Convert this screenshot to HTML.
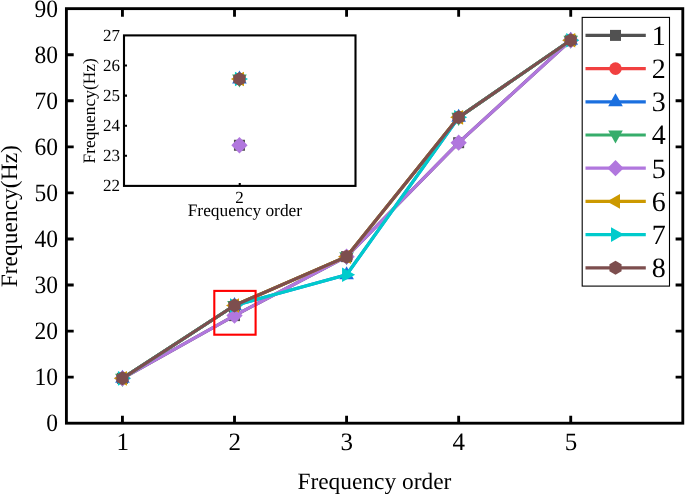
<!DOCTYPE html>
<html><head><meta charset="utf-8"><title>Frequency chart</title>
<style>html,body{margin:0;padding:0;background:#fff}svg{display:block}text{font-family:"Liberation Serif","Times New Roman",serif;text-rendering:geometricPrecision}</style></head>
<body>
<svg width="685" height="494" viewBox="0 0 685 494" fill="#000">
<rect width="685" height="494" fill="#fff"/>
<polyline points="122.44,378.34 234.51,315.62 346.58,256.64 458.65,142.69 570.73,40.25" fill="none" stroke="#515151" stroke-width="3.2" stroke-linejoin="round"/>
<rect x="116.94" y="372.84" width="11" height="11" fill="#515151"/>
<rect x="229.01" y="310.12" width="11" height="11" fill="#515151"/>
<rect x="341.08" y="251.14" width="11" height="11" fill="#515151"/>
<rect x="453.15" y="137.19" width="11" height="11" fill="#515151"/>
<rect x="565.23" y="34.75" width="11" height="11" fill="#515151"/>
<polyline points="122.44,378.34 234.51,305.47 346.58,256.64 458.65,117.35 570.73,40.25" fill="none" stroke="#F14040" stroke-width="3.2" stroke-linejoin="round"/>
<circle cx="122.44" cy="378.34" r="6.3" fill="#F14040"/>
<circle cx="234.51" cy="305.47" r="6.3" fill="#F14040"/>
<circle cx="346.58" cy="256.64" r="6.3" fill="#F14040"/>
<circle cx="458.65" cy="117.35" r="6.3" fill="#F14040"/>
<circle cx="570.73" cy="40.25" r="6.3" fill="#F14040"/>
<polyline points="122.44,378.34 234.51,305.47 346.58,274.79 458.65,117.35 570.73,40.25" fill="none" stroke="#1A6FDF" stroke-width="3.2" stroke-linejoin="round"/>
<polygon points="122.44,369.79 129.74,382.84 115.14,382.84" fill="#1A6FDF"/>
<polygon points="234.51,296.92 241.81,309.97 227.21,309.97" fill="#1A6FDF"/>
<polygon points="346.58,266.24 353.88,279.29 339.28,279.29" fill="#1A6FDF"/>
<polygon points="458.65,108.80 465.95,121.85 451.35,121.85" fill="#1A6FDF"/>
<polygon points="570.73,31.70 578.03,44.75 563.43,44.75" fill="#1A6FDF"/>
<polyline points="122.44,378.34 234.51,305.47 346.58,256.64 458.65,117.35 570.73,40.25" fill="none" stroke="#37AD6B" stroke-width="3.2" stroke-linejoin="round"/>
<polygon points="122.44,386.89 129.74,373.84 115.14,373.84" fill="#37AD6B"/>
<polygon points="234.51,314.02 241.81,300.97 227.21,300.97" fill="#37AD6B"/>
<polygon points="346.58,265.19 353.88,252.14 339.28,252.14" fill="#37AD6B"/>
<polygon points="458.65,125.90 465.95,112.85 451.35,112.85" fill="#37AD6B"/>
<polygon points="570.73,48.80 578.03,35.75 563.43,35.75" fill="#37AD6B"/>
<polyline points="122.44,378.34 234.51,315.62 346.58,256.64 458.65,142.69 570.73,40.25" fill="none" stroke="#B177DE" stroke-width="3.2" stroke-linejoin="round"/>
<polygon points="122.44,370.19 130.59,378.34 122.44,386.49 114.29,378.34" fill="#B177DE"/>
<polygon points="234.51,307.47 242.66,315.62 234.51,323.77 226.36,315.62" fill="#B177DE"/>
<polygon points="346.58,248.49 354.73,256.64 346.58,264.79 338.43,256.64" fill="#B177DE"/>
<polygon points="458.65,134.54 466.80,142.69 458.65,150.84 450.50,142.69" fill="#B177DE"/>
<polygon points="570.73,32.10 578.88,40.25 570.73,48.40 562.58,40.25" fill="#B177DE"/>
<polyline points="122.44,378.34 234.51,305.47 346.58,256.64 458.65,117.35 570.73,40.25" fill="none" stroke="#CC9900" stroke-width="3.2" stroke-linejoin="round"/>
<polygon points="113.89,378.34 126.94,371.04 126.94,385.64" fill="#CC9900"/>
<polygon points="225.96,305.47 239.01,298.17 239.01,312.77" fill="#CC9900"/>
<polygon points="338.03,256.64 351.08,249.34 351.08,263.94" fill="#CC9900"/>
<polygon points="450.10,117.35 463.15,110.05 463.15,124.65" fill="#CC9900"/>
<polygon points="562.18,40.25 575.23,32.95 575.23,47.55" fill="#CC9900"/>
<polyline points="122.44,378.34 234.51,305.47 346.58,274.79 458.65,117.35 570.73,40.25" fill="none" stroke="#00CBCC" stroke-width="3.2" stroke-linejoin="round"/>
<polygon points="130.99,378.34 117.94,371.04 117.94,385.64" fill="#00CBCC"/>
<polygon points="243.06,305.47 230.01,298.17 230.01,312.77" fill="#00CBCC"/>
<polygon points="355.13,274.79 342.08,267.49 342.08,282.09" fill="#00CBCC"/>
<polygon points="467.20,117.35 454.15,110.05 454.15,124.65" fill="#00CBCC"/>
<polygon points="579.28,40.25 566.23,32.95 566.23,47.55" fill="#00CBCC"/>
<polyline points="122.44,378.34 234.51,305.47 346.58,256.64 458.65,117.35 570.73,40.25" fill="none" stroke="#7D4E4E" stroke-width="3.2" stroke-linejoin="round"/>
<polygon points="122.44,371.34 128.50,374.84 128.50,381.84 122.44,385.34 116.37,381.84 116.37,374.84" fill="#7D4E4E"/>
<polygon points="234.51,298.47 240.57,301.97 240.57,308.97 234.51,312.47 228.45,308.97 228.45,301.97" fill="#7D4E4E"/>
<polygon points="346.58,249.64 352.64,253.14 352.64,260.14 346.58,263.64 340.52,260.14 340.52,253.14" fill="#7D4E4E"/>
<polygon points="458.65,110.35 464.72,113.85 464.72,120.85 458.65,124.35 452.59,120.85 452.59,113.85" fill="#7D4E4E"/>
<polygon points="570.73,33.25 576.79,36.75 576.79,43.75 570.73,47.25 564.67,43.75 564.67,36.75" fill="#7D4E4E"/>
<rect x="214.3" y="290.9" width="41.3" height="43.8" fill="none" stroke="#FF0000" stroke-width="2.1"/>
<rect x="66.40" y="8.65" width="616.40" height="414.55" fill="none" stroke="#000" stroke-width="2.85"/>
<path d="M122.44 423.20V415.80M122.44 8.65V16.65M234.51 423.20V415.80M234.51 8.65V16.65M346.58 423.20V415.80M346.58 8.65V16.65M458.65 423.20V415.80M458.65 8.65V16.65M570.73 423.20V415.80M570.73 8.65V16.65M66.40 377.14H73.70M682.80 377.14H675.60M66.40 331.08H73.70M682.80 331.08H675.60M66.40 285.02H73.70M682.80 285.02H675.60M66.40 238.96H73.70M682.80 238.96H675.60M66.40 192.89H73.70M682.80 192.89H675.60M66.40 146.83H73.70M682.80 146.83H675.60M66.40 100.77H73.70M682.80 100.77H675.60M66.40 54.71H73.70M682.80 54.71H675.60" stroke="#000" stroke-width="2.85" fill="none"/>
<g font-size="25">
<text transform="translate(57.9 431.10) scale(0.94 1)" text-anchor="end">0</text>
<text transform="translate(57.9 385.04) scale(0.94 1)" text-anchor="end">10</text>
<text transform="translate(57.9 338.98) scale(0.94 1)" text-anchor="end">20</text>
<text transform="translate(57.9 292.92) scale(0.94 1)" text-anchor="end">30</text>
<text transform="translate(57.9 246.86) scale(0.94 1)" text-anchor="end">40</text>
<text transform="translate(57.9 200.79) scale(0.94 1)" text-anchor="end">50</text>
<text transform="translate(57.9 154.73) scale(0.94 1)" text-anchor="end">60</text>
<text transform="translate(57.9 108.67) scale(0.94 1)" text-anchor="end">70</text>
<text transform="translate(57.9 62.61) scale(0.94 1)" text-anchor="end">80</text>
<text transform="translate(57.9 16.55) scale(0.94 1)" text-anchor="end">90</text>
<text x="122.64" y="450.2" text-anchor="middle">1</text>
<text x="234.71" y="450.2" text-anchor="middle">2</text>
<text x="346.78" y="450.2" text-anchor="middle">3</text>
<text x="458.85" y="450.2" text-anchor="middle">4</text>
<text x="570.93" y="450.2" text-anchor="middle">5</text>
</g>
<text x="374.4" y="488.6" font-size="23.4" text-anchor="middle">Frequency order</text>
<text transform="translate(16.8 216.2) rotate(-90)" font-size="23.5" text-anchor="middle">Frequency(Hz)</text>
<rect x="582.2" y="17.4" width="87.3" height="268.7" fill="#fff" stroke="#000" stroke-width="1.1"/>
<line x1="585.5" x2="645.8" y1="35.40" y2="35.40" stroke="#515151" stroke-width="3.2"/>
<rect x="610.00" y="29.90" width="11" height="11" fill="#515151"/>
<text x="658.8" y="44.70" font-size="28" text-anchor="middle">1</text>
<line x1="585.5" x2="645.8" y1="68.60" y2="68.60" stroke="#F14040" stroke-width="3.2"/>
<circle cx="615.50" cy="68.60" r="6.3" fill="#F14040"/>
<text x="658.8" y="77.90" font-size="28" text-anchor="middle">2</text>
<line x1="585.5" x2="645.8" y1="101.80" y2="101.80" stroke="#1A6FDF" stroke-width="3.2"/>
<polygon points="615.50,93.25 622.80,106.30 608.20,106.30" fill="#1A6FDF"/>
<text x="658.8" y="111.10" font-size="28" text-anchor="middle">3</text>
<line x1="585.5" x2="645.8" y1="135.00" y2="135.00" stroke="#37AD6B" stroke-width="3.2"/>
<polygon points="615.50,143.55 622.80,130.50 608.20,130.50" fill="#37AD6B"/>
<text x="658.8" y="144.30" font-size="28" text-anchor="middle">4</text>
<line x1="585.5" x2="645.8" y1="168.20" y2="168.20" stroke="#B177DE" stroke-width="3.2"/>
<polygon points="615.50,160.05 623.65,168.20 615.50,176.35 607.35,168.20" fill="#B177DE"/>
<text x="658.8" y="177.50" font-size="28" text-anchor="middle">5</text>
<line x1="585.5" x2="645.8" y1="201.40" y2="201.40" stroke="#CC9900" stroke-width="3.2"/>
<polygon points="606.95,201.40 620.00,194.10 620.00,208.70" fill="#CC9900"/>
<text x="658.8" y="210.70" font-size="28" text-anchor="middle">6</text>
<line x1="585.5" x2="645.8" y1="234.60" y2="234.60" stroke="#00CBCC" stroke-width="3.2"/>
<polygon points="624.05,234.60 611.00,227.30 611.00,241.90" fill="#00CBCC"/>
<text x="658.8" y="243.90" font-size="28" text-anchor="middle">7</text>
<line x1="585.5" x2="645.8" y1="267.80" y2="267.80" stroke="#7D4E4E" stroke-width="3.2"/>
<polygon points="615.50,260.80 621.56,264.30 621.56,271.30 615.50,274.80 609.44,271.30 609.44,264.30" fill="#7D4E4E"/>
<text x="658.8" y="277.10" font-size="28" text-anchor="middle">8</text>
<rect x="124.00" y="35.40" width="231.50" height="150.50" fill="#fff" stroke="#000" stroke-width="2.1"/>
<path d="M124.00 155.80H127.00M124.00 125.70H127.00M124.00 95.60H127.00M124.00 65.50H127.00M239.75 185.90V182.90" stroke="#000" stroke-width="2.1" fill="none"/>
<g font-size="17">
<text x="120" y="191.20" text-anchor="end">22</text>
<text x="120" y="161.10" text-anchor="end">23</text>
<text x="120" y="131.00" text-anchor="end">24</text>
<text x="120" y="100.90" text-anchor="end">25</text>
<text x="120" y="70.80" text-anchor="end">26</text>
<text x="120" y="40.70" text-anchor="end">27</text>
<text x="239.45" y="202.8" text-anchor="middle">2</text>
</g>
<text x="244.9" y="215.8" font-size="17.4" text-anchor="middle">Frequency order</text>
<text transform="translate(94.5 110.9) rotate(-90)" font-size="17.4" text-anchor="middle">Frequency(Hz)</text>
<rect x="233.95" y="139.76" width="11" height="11" fill="#515151"/>
<circle cx="239.45" cy="78.95" r="6.3" fill="#F14040"/>
<polygon points="239.45,70.40 246.75,83.45 232.15,83.45" fill="#1A6FDF"/>
<polygon points="239.45,87.50 246.75,74.45 232.15,74.45" fill="#37AD6B"/>
<polygon points="239.45,137.11 247.60,145.26 239.45,153.41 231.30,145.26" fill="#B177DE"/>
<polygon points="230.90,78.95 243.95,71.65 243.95,86.25" fill="#CC9900"/>
<polygon points="248.00,78.95 234.95,71.65 234.95,86.25" fill="#00CBCC"/>
<polygon points="239.45,71.95 245.51,75.45 245.51,82.45 239.45,85.95 233.39,82.45 233.39,75.45" fill="#7D4E4E"/>
</svg>
</body></html>
